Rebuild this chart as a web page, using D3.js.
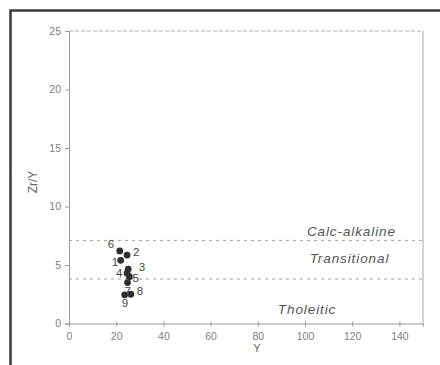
<!DOCTYPE html>
<html><head><meta charset="utf-8">
<script src="https://cdn.jsdelivr.net/npm/d3@7"></script>
<style>
html,body{margin:0;padding:0;background:#fff;}
svg{display:block;}
</style></head>
<body>
<script>
// data
const sampleIds = ["1","2","3","4","5","6","7","8","9"];
const yValues   = [21.9, 24.6, 25.1, 24.6, 25.6, 21.5, 24.8, 26.2, 23.6];   // Y (ppm)
const zrYValues = [5.4, 5.85, 4.65, 4.3, 4.0, 6.2, 3.5, 2.5, 2.45];          // Zr/Y
const labelSide = ["left-down","right","right-up","left","right-down","left-up","below","right","below"];
const xTicks = [0, 20, 40, 60, 80, 100, 120, 140];
const yTicks = [0, 5, 10, 15, 20, 25];
const boundaryValues = [7.1, 3.8];
const fieldNames = ["Calc-alkaline", "Transitional", "Tholeitic"];
const fieldLabelAt = [[100.8, 7.48], [102, 5.17], [88.5, 0.81]];

const W = 440, H = 365;
const svg = d3.select("body").append("svg").attr("width", W).attr("height", H);

// outer frame
svg.append("path").attr("d", "M10.5,368 L10.5,10.5 L445,10.5")
  .attr("fill", "none").attr("stroke", "#3a3a3a").attr("stroke-width", 2.5);

const L = 69, R = 423, T = 31, B = 323.5;
const x = d3.scaleLinear().domain([0, 150]).range([L, R]);
const y = d3.scaleLinear().domain([0, 25]).range([B, T]);

const axisCol = "#9a9a9a", textCol = "#808080";
const font = "Arial, 'Liberation Sans', sans-serif";

// top dashed border and right border
svg.append("line").attr("x1", L).attr("x2", R).attr("y1", T).attr("y2", T)
  .attr("stroke", "#b0b0b0").attr("stroke-dasharray", "4,2");
svg.append("line").attr("x1", R).attr("x2", R).attr("y1", T).attr("y2", B)
  .attr("stroke", "#a8a8a8");

// axes
const xAxis = svg.append("g").attr("transform", `translate(0,${B})`)
  .call(d3.axisBottom(x).tickValues(xTicks).tickSize(3).tickPadding(6));
const yAxis = svg.append("g").attr("transform", `translate(${L},0)`)
  .call(d3.axisLeft(y).tickValues(yTicks).tickSize(4).tickPadding(4));
[xAxis, yAxis].forEach(g => {
  g.select(".domain").attr("stroke", axisCol);
  g.selectAll(".tick line").attr("stroke", axisCol);
  g.selectAll(".tick text").attr("fill", textCol).style("font-family", font).style("font-size", "10.5px");
});
xAxis.selectAll(".tick line").attr("y1", -2);

// axis titles
svg.append("text").attr("x", x(80) - 1).attr("y", 352).attr("text-anchor", "middle")
  .attr("fill", "#666").style("font-family", font).style("font-size", "11px").text("Y");
svg.append("text").attr("transform", `translate(37,182) rotate(-90)`).attr("text-anchor", "middle")
  .attr("fill", "#666").style("font-family", font).style("font-size", "12px").text("Zr/Y");

// boundary lines
svg.selectAll(".bound").data(boundaryValues).enter().append("line")
  .attr("x1", L).attr("x2", R).attr("y1", d => y(d)).attr("y2", d => y(d))
  .attr("stroke", "#a0a0a0").attr("stroke-width", 1).attr("stroke-dasharray", "3,4");

// field labels
svg.selectAll(".field").data(fieldNames).enter().append("text")
  .attr("x", (d, i) => x(fieldLabelAt[i][0]))
  .attr("y", (d, i) => y(fieldLabelAt[i][1]))
  .attr("fill", "#555").style("font-family", font)
  .style("font-size", "13.5px").style("font-style", "italic").style("letter-spacing", "0.9px")
  .text(d => d);

// points
const pts = sampleIds.map((id, i) => ({id, xv: yValues[i], yv: zrYValues[i], side: labelSide[i]}));
svg.selectAll(".pt").data(pts).enter().append("circle")
  .attr("cx", d => x(d.xv)).attr("cy", d => y(d.yv)).attr("r", 3.4).attr("fill", "#2e2e2e");

const off = {
  "left": [-11, 4], "left-down": [-9, 6], "left-up": [-12, -3], "right": [6, 1],
  "right-up": [10.5, 2], "right-down": [3, 5], "below": [-3, 12]
};
svg.selectAll(".lbl").data(pts).enter().append("text")
  .attr("x", d => x(d.xv) + off[d.side][0])
  .attr("y", d => y(d.yv) + off[d.side][1])
  .attr("fill", "#444").style("font-family", font).style("font-size", "11.5px")
  .text(d => d.id);
</script>
</body></html>
